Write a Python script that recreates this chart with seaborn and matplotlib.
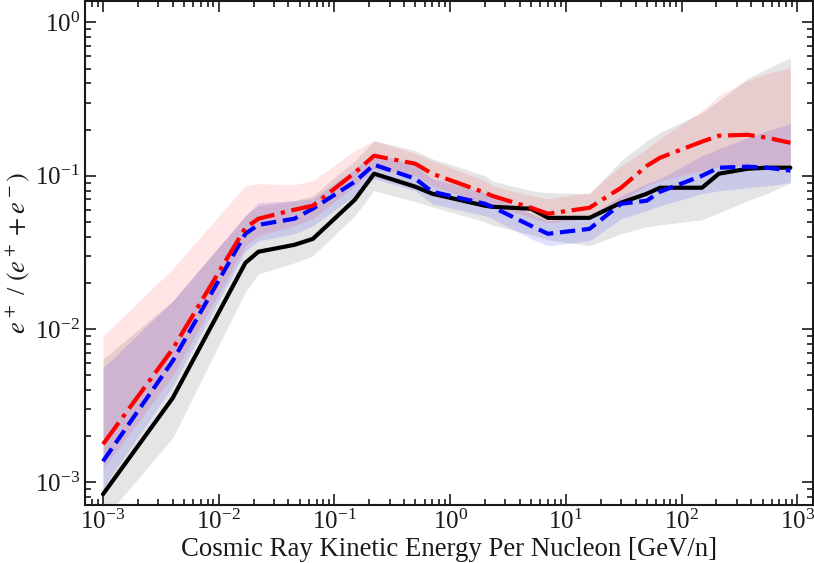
import numpy as np
import pandas as pd
import seaborn as sns
import matplotlib
matplotlib.use('agg')
import matplotlib.pyplot as plt

# kinetic energy grid [GeV/n]
energy = [1e-3, 4e-3, 1.7e-2, 2.2e-2, 4.5e-2, 6.5e-2, 1.5e-1, 2.2e-1, 5e-1, 7e-1,
          2.0, 2.3, 5.0, 7.0, 16.0, 30.0, 50.0, 65.0, 150.0, 210.0, 370.0, 550.0, 870.0]

# positron fraction, three models
frac_black = [8.35e-4, 3.54e-3, 0.0270, 0.0319, 0.0354, 0.0387, 0.0697, 0.1031, 0.0848, 0.0763,
              0.0637, 0.0627, 0.0609, 0.0531, 0.0531, 0.0667, 0.0763, 0.0835, 0.0835, 0.1031,
              0.111, 0.1128, 0.1128]
frac_blue = [1.37e-3, 6.18e-3, 0.0418, 0.0478, 0.0524, 0.0609, 0.0914, 0.118, 0.0956, 0.0786,
             0.0656, 0.0627, 0.0471, 0.0418, 0.0450, 0.0656, 0.0687, 0.0786, 0.100, 0.1128,
             0.1146, 0.1128, 0.108]
frac_red = [1.77e-3, 7.4e-3, 0.0457, 0.0524, 0.060, 0.0637, 0.1047, 0.135, 0.1198, 0.1031,
            0.0775, 0.074, 0.0618, 0.0565, 0.0618, 0.0835, 0.116, 0.131, 0.167, 0.1825,
            0.185, 0.177, 0.164]

# uncertainty bands
black_lo = [5.7e-4, 1.94e-3, 0.0175, 0.0229, 0.027, 0.030, 0.0548, 0.0798, 0.0676, 0.0627,
            0.050, 0.0478, 0.0412, 0.0382, 0.0349, 0.0418, 0.0464, 0.0478, 0.0516, 0.0573,
            0.0687, 0.0763, 0.090]
black_hi = [6.37e-3, 0.0152, 0.0548, 0.0637, 0.0687, 0.074, 0.1253, 0.1694, 0.1457, 0.129,
            0.100, 0.0927, 0.0798, 0.0775, 0.0763, 0.1253, 0.1694, 0.191, 0.258, 0.309,
            0.4305, 0.5005, 0.590]
blue_lo = [9.14e-4, 4.24e-3, 0.0323, 0.0376, 0.0418, 0.0471, 0.074, 0.0956, 0.0798, 0.0656,
           0.0548, 0.0524, 0.0387, 0.0349, 0.0376, 0.0524, 0.0591, 0.0637, 0.0763, 0.0798,
           0.0835, 0.086, 0.090]
blue_hi = [5.56e-3, 0.0152, 0.0548, 0.0667, 0.0687, 0.0708, 0.111, 0.1414, 0.116, 0.0956,
           0.0775, 0.074, 0.0565, 0.0508, 0.0548, 0.074, 0.0887, 0.0956, 0.135, 0.150,
           0.177, 0.197, 0.2187]
red_lo = [1.22e-3, 4.93e-3, 0.0349, 0.0405, 0.0471, 0.0524, 0.086, 0.111, 0.100, 0.086,
          0.0656, 0.0637, 0.0531, 0.0493, 0.0524, 0.0687, 0.086, 0.0927, 0.108, 0.1146,
          0.116, 0.116, 0.116]
red_hi = [9.0e-3, 0.0247, 0.086, 0.0887, 0.0873, 0.0927, 0.1457, 0.1694, 0.1393, 0.1253,
          0.0927, 0.086, 0.074, 0.0708, 0.0775, 0.116, 0.150, 0.1746, 0.266, 0.333,
          0.418, 0.464, 0.508]

sns.set_theme(style="ticks")
plt.rcParams['font.family'] = ['Liberation Serif', 'DejaVu Serif']
plt.rcParams['mathtext.fontset'] = 'stix'

fig = plt.figure(figsize=(8.14, 5.63), dpi=100)
ax = fig.add_axes([0.1045, 0.103, 0.8945, 0.896])

# shaded bands first, lines on top
ax.fill_between(energy, black_lo, black_hi, color='#000000', alpha=0.1, lw=0)
ax.fill_between(energy, blue_lo, blue_hi, color='#0000ff', alpha=0.12, lw=0)
ax.fill_between(energy, red_lo, red_hi, color='#ff0000', alpha=0.1, lw=0)

sns.lineplot(x=energy, y=frac_black, color='#000000', lw=3, ax=ax)
sns.lineplot(x=energy, y=frac_blue, color='#0000ff', lw=3, linestyle='--', ax=ax)
sns.lineplot(x=energy, y=frac_red, color='#ff0000', lw=3, linestyle='-.', ax=ax)

ax.set_xscale('log')
ax.set_yscale('log')
ax.set_xlim(7e-4, 1.37e3)
ax.set_ylim(7.1e-4, 1.39)

ax.tick_params(which='both', direction='in', top=True, right=True, labelsize=18,
               width=1.2, colors='k')
ax.tick_params(which='major', length=8)
ax.tick_params(which='minor', length=4.5)
for s in ax.spines.values():
    s.set_linewidth(1.5)
    s.set_color('k')

ax.set_xlabel('Cosmic Ray Kinetic Energy Per Nucleon [GeV/n]', fontsize=19.3, labelpad=2, color='k')
ax.set_ylabel(r'$e^+$ / $(e^+ + e^-)$', fontsize=19, labelpad=2, color='k')

fig.savefig('out.png', dpi=100)
